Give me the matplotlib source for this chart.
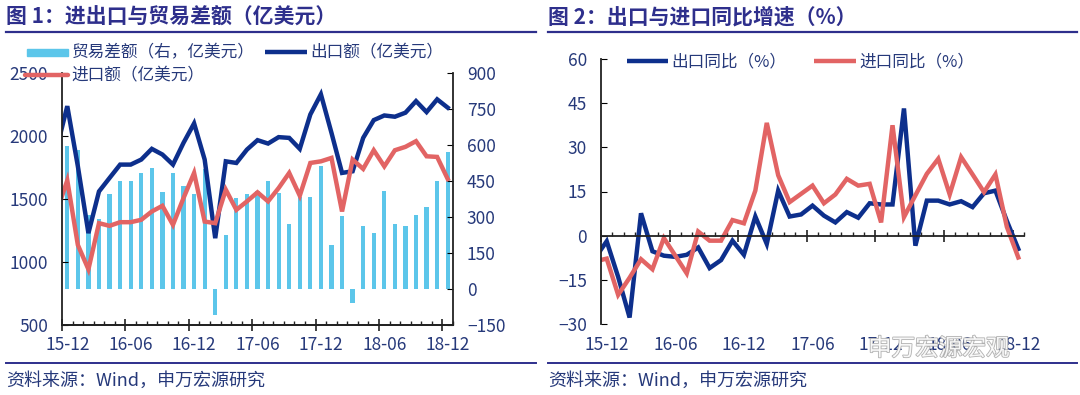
import numpy as np
import matplotlib
matplotlib.use("Agg")
import matplotlib.pyplot as plt
import matplotlib.patheffects as pe
from matplotlib.lines import Line2D
from matplotlib.patches import Rectangle

plt.rcParams['font.family'] = ['Noto Sans CJK SC', 'DejaVu Sans']

# 月份（15-11 只用于让折线从坐标轴处开始）
months = ['15-11', '15-12'] + ['%02d-%02d' % (y, m) for y in (16, 17, 18) for m in range(1, 13)]

# 图1：出口额、进口额（亿美元）、贸易差额（右轴，亿美元）
exports = [1900, 2237, 1760, 1229, 1560, 1667, 1773, 1773, 1813, 1898, 1853, 1773, 1946, 2100,
           1813, 1189, 1799, 1786, 1892, 1967, 1940, 1991, 1985, 1898, 2171, 2331,
           2025, 1707, 1720, 1985, 2126, 2163, 2153, 2185, 2277, 2190, 2291, 2225]
imports = [1400, 1648, 1135, 942, 1308, 1287, 1316, 1316, 1335, 1401, 1446, 1295, 1508, 1707,
           1321, 1308, 1574, 1414, 1481, 1553, 1481, 1587, 1707, 1526, 1786, 1799,
           1826, 1401, 1813, 1739, 1887, 1759, 1887, 1914, 1959, 1839, 1834, 1659]
surplus = [540, 594, 580, 310, 290, 396, 452, 452, 483, 504, 403, 483, 431, 396,
           500, -110, 226, 380, 396, 410, 449, 399, 271, 382, 385, 511,
           184, 305, -57, 264, 232, 410, 271, 264, 310, 343, 449, 571]

# 图2：出口同比、进口同比（%）
export_yoy = [-7.5, -1.9, -14, -27.8, 7.6, -5.3, -6.8, -7.2, -6.5, -4.0, -11.0, -8.3, -1.7, -6.5,
              6.5, -2.8, 15.3, 6.5, 7.2, 10.2, 6.8, 4.5, 8.0, 6.1, 11.0, 10.6,
              10.6, 43.2, -3.4, 11.9, 11.9, 10.6, 11.7, 9.7, 14.4, 15.3, 5.0, -4.5]
import_yoy = [-8.7, -7.8, -20.1, -14.3, -8.0, -11.4, -0.8, -6.8, -12.8, 1.4, -1.7, -1.7, 5.3, 4.2,
              15.3, 38.3, 20.5, 11.4, 14.2, 17.0, 11.0, 14.0, 19.3, 17.0, 17.6, 4.5,
              37.5, 6.3, 13.7, 21.0, 26.1, 14.0, 26.7, 20.8, 14.8, 20.8, 3.0, -7.4]

label_months = ['15-12', '16-06', '16-12', '17-06', '17-12', '18-06', '18-12']

navy = '#0d2f8c'
red = '#e26464'
cyan = '#5cc6ea'
txt = '#26397a'
title_c = '#2e2f8c'

x = np.arange(len(months)) - 1
W, H = 1080, 395

fig = plt.figure(figsize=(10.8, 3.95), dpi=100)
fig.patch.set_facecolor('white')


def px(x0, y0, x1, y1):
    return [x0 / W, 1 - y1 / H, (x1 - x0) / W, (y1 - y0) / H]


def fx(v):
    return v / W


def fy(v):
    return 1 - v / H


def month_axis(ax, y_lab):
    ax.set_xlim(-0.5, 36.5)
    ax.set_xticks(np.arange(-0.5, 36, 6))
    ax.set_xticks(np.arange(-0.5, 37, 1), minor=True)
    ax.set_xticklabels([])
    ax.tick_params(axis='x', which='major', direction='inout', length=8, width=1.2, color='#222222')
    ax.tick_params(axis='x', which='minor', direction='in', length=3, width=1, color='#222222')
    for lab in label_months:
        ax.text(months.index(lab) - 1, y_lab, lab, transform=ax.get_xaxis_transform(),
                ha='center', va='top', fontsize=12.5, color=txt)


def legend_line(x0, x1, y, color, label, cap='butt'):
    fig.add_artist(Line2D([fx(x0), fx(x1)], [fy(y)] * 2, color=color, lw=3.2, solid_capstyle=cap))
    fig.text(fx(x1 + 3), fy(y + 1), label, fontsize=12, color=txt, ha='left', va='center')


# ---------- 图1 ----------
axb = fig.add_axes(px(62, 73, 453, 325))
ax1 = axb.twinx()
axb.yaxis.tick_right()
axb.bar(x, surplus, width=0.4, color=cyan, zorder=1)
axb.set_ylim(-150, 900)
axb.set_yticks(np.arange(-150, 901, 150))
ax1.yaxis.tick_left()
ax1.plot(x, exports, color=navy, lw=3.2, solid_joinstyle='miter')
ax1.plot(x, imports, color=red, lw=3.2, solid_joinstyle='miter')
ax1.set_ylim(500, 2500)
ax1.set_yticks(np.arange(500, 2501, 500))
ax1.set_zorder(axb.get_zorder() + 1)
ax1.patch.set_visible(False)
for a in (axb, ax1):
    a.spines['top'].set_visible(False)
    for s in a.spines.values():
        s.set_color('#222222')
        s.set_linewidth(1.3)
axb.spines['left'].set_visible(False)
ax1.spines['right'].set_visible(False)
axb.tick_params(axis='y', direction='in', length=4, labelsize=12.5, labelcolor=txt, pad=10)
ax1.tick_params(axis='y', direction='in', length=4, labelsize=12.5, labelcolor=txt, pad=10)
month_axis(axb, -0.045)

# 图例
fig.add_artist(Rectangle((fx(27), fy(56)), fx(41), 7 / H, color=cyan))
fig.text(fx(72), fy(53), '贸易差额（右，亿美元）', fontsize=12, color=txt, ha='left', va='center')
legend_line(265, 307, 52, navy, '出口额（亿美元）')
legend_line(25, 68, 75, red, '进口额（亿美元）', cap='round')

# ---------- 图2 ----------
ax2 = fig.add_axes(px(601, 59, 1024, 324))
ax2.plot(x, export_yoy, color=navy, lw=3.2, solid_joinstyle='miter')
ax2.plot(x, import_yoy, color=red, lw=3.2, solid_joinstyle='miter')
ax2.set_ylim(-30, 60)
ax2.set_yticks(np.arange(-30, 61, 15))
ax2.spines['bottom'].set_position(('data', 0))
for s in ('top', 'right'):
    ax2.spines[s].set_visible(False)
for s in ('left', 'bottom'):
    ax2.spines[s].set_color('#222222')
    ax2.spines[s].set_linewidth(1.3)
ax2.tick_params(axis='y', direction='in', length=4, labelsize=12.5, labelcolor=txt, pad=10)
month_axis(ax2, -0.045)

legend_line(627, 668, 61, navy, '出口同比（%）')
legend_line(814, 856, 61, red, '进口同比（%）')

# ---------- 标题、分隔线、来源 ----------
for x0, x1, t in ((6, 536, '图 1：进出口与贸易差额（亿美元）'), (548, 1077, '图 2：出口与进口同比增速（%）')):
    fig.text(fx(x0), fy(17), t, fontsize=15, fontweight='bold', color=title_c,
             ha='left', va='center')
    fig.add_artist(Line2D([fx(x0), fx(x1)], [fy(32)] * 2, color=title_c, lw=1.6))
    fig.add_artist(Line2D([fx(x0), fx(x1)], [fy(363)] * 2, color=title_c, lw=1.4))
    fig.text(fx(x0), fy(381), '资料来源：Wind，申万宏源研究', fontsize=13, color=txt,
             ha='left', va='center')

# 水印
fig.text(fx(868), fy(349), '申万宏源宏观', fontsize=17, color='white', ha='left', va='center',
         alpha=0.9, path_effects=[pe.withStroke(linewidth=1.2, foreground='#a8a8a8')])

fig.savefig('out.png', dpi=100, facecolor='white')
